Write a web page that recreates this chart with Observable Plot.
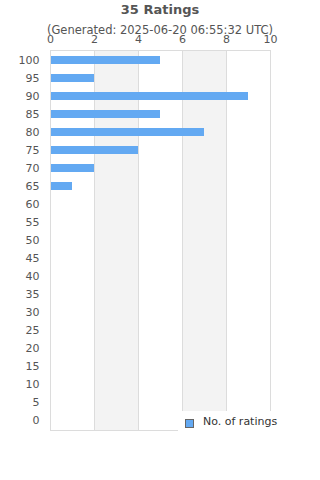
<!DOCTYPE html>
<html><head><meta charset="utf-8">
<script src="https://cdn.jsdelivr.net/npm/d3@7"></script>
<script src="https://cdn.jsdelivr.net/npm/@observablehq/plot@0.6"></script>
<style>
body{margin:0;background:#fff;font-family:"DejaVu Sans",sans-serif;}
#wrap{position:relative;width:320px;height:480px;overflow:hidden;}
#title{position:absolute;top:2px;left:0;width:320px;text-align:center;font-weight:bold;font-size:13px;color:#555;}
#sub{position:absolute;top:23px;left:0;width:320px;text-align:center;font-size:11.5px;color:#555;}
#legend{position:absolute;left:178px;top:411px;width:142px;height:30px;background:#fff;font-size:11px;color:#333;}
#legend .sw{position:absolute;left:7px;top:8px;width:7px;height:7px;background:#63a9f2;border:1px solid #666;}
#legend .lb{position:absolute;left:25px;top:4px;}
svg{position:absolute;top:0;left:0;}
</style></head>
<body><div id="wrap">
<div id="chart"></div>
<div id="title">35 Ratings</div>
<div id="sub">(Generated: 2025-06-20 06:55:32 UTC)</div>
<div id="legend"><div class="sw"></div><div class="lb">No. of ratings</div></div>
</div>
<script>
const categories = ["100","95","90","85","80","75","70","65","60","55","50","45","40","35","30","25","20","15","10","5","0"];
const counts = [5,2,9,5,7,4,2,1,0,0,0,0,0,0,0,0,0,0,0,0,0];
const xTicks = [0,2,4,6,8,10];
const shadedBands = [[2,4],[6,8]];
const gridLines = [2,4,6,8];

const data = categories.map((c,i)=>({cat:c, n:counts[i]}));
const bands = shadedBands.map(([a,b])=>({a,b}));

const chart = Plot.plot({
  width:320, height:480,
  marginLeft:50, marginRight:50, marginTop:50, marginBottom:50,
  style:{fontFamily:"DejaVu Sans, sans-serif", fontSize:"11px", color:"#555", background:"transparent"},
  x:{domain:[0,10], axis:"top", ticks:xTicks, tickSize:0, tickPadding:8, label:null, tickFormat:d=>d},
  y:{domain:categories, paddingInner:0.56, paddingOuter:0.28, tickSize:0, tickPadding:11, label:null},
  marks:[
    Plot.rect(bands,{x1:"a", x2:"b", fill:"#f3f3f3"}),
    Plot.ruleX(gridLines,{stroke:"#dcdcdc"}),
    Plot.barX(data.filter(d=>d.n>0),{x:"n", y:"cat", fill:"#63a9f2"}),
    Plot.frame({stroke:"#dcdcdc"})
  ]
});
document.getElementById("chart").appendChild(chart);
</script>
</body></html>
